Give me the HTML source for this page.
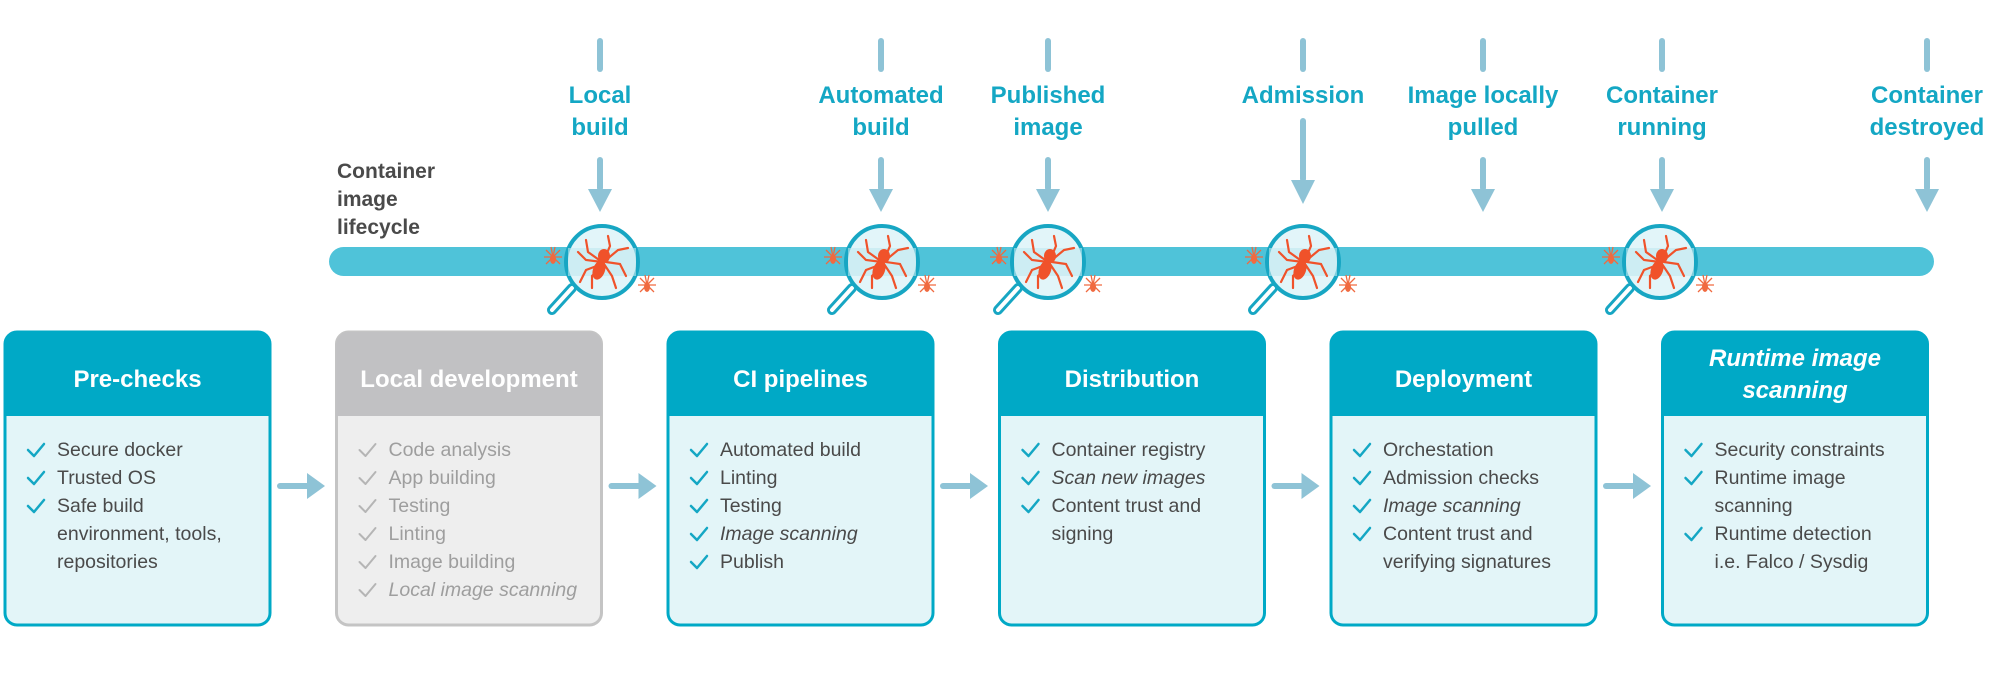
<!DOCTYPE html>
<html><head><meta charset="utf-8"><style>
html,body{margin:0;padding:0;background:#fff;}
svg{display:block;font-family:"Liberation Sans",sans-serif;}
</style></head><body>
<svg width="1999" height="673" viewBox="0 0 1999 673" xmlns="http://www.w3.org/2000/svg">
<defs>
<g id="sp">
 <g stroke="#f0522a" stroke-width="2.2" fill="none" stroke-linecap="round">
  <path d="M0,0 L-14,-10 L-16,-22"/><path d="M0,0 L-16,-2 L-24,-10"/><path d="M0,2 L-16,8 L-22,20"/><path d="M0,4 L-10,14 L-10,26"/>
  <path d="M2,-2 L8,-16 L6,-26"/><path d="M4,-2 L16,-12 L26,-14"/><path d="M4,0 L18,2 L24,14"/><path d="M2,2 L10,14 L14,26"/>
 </g>
 <ellipse cx="2" cy="-6" rx="6" ry="7" fill="#f0522a"/>
 <ellipse cx="-3" cy="8" rx="6" ry="10" fill="#f0522a" transform="rotate(20 -3 8)"/>
</g>
<g id="ss">
 <g stroke="#f06a40" stroke-width="1.3" fill="none">
  <path d="M0,0 L-7,-7 M0,0 L-9,0 M0,0 L-7,7 M0,0 L7,-7 M0,0 L9,0 M0,0 L7,7 M0,0 L-2,-10 M0,0 L2,-10"/>
 </g>
 <ellipse cx="0" cy="2" rx="3" ry="5" fill="#f06a40"/>
</g>
<g id="mag">
 <line x1="-30" y1="26" x2="-50" y2="48" stroke="#17a6c3" stroke-width="10" stroke-linecap="round"/>
 <line x1="-30" y1="26" x2="-50" y2="48" stroke="#fff" stroke-width="4" stroke-linecap="round"/>
 <circle r="36" fill="#e2f5f9" stroke="#17a6c3" stroke-width="4"/>
 <rect x="-34" y="-14" width="68" height="28" fill="#bfe7ef" opacity="0.6"/>
 <use href="#sp"/>
 <use href="#ss" x="-49" y="-5"/>
 <use href="#ss" x="45" y="23"/>
</g>
<g id="arr">
 <rect x="-3" y="0" width="6" height="34" rx="3" fill="#8ec3d6"/>
 <polygon points="-12,32 12,32 0,55" fill="#8ec3d6"/>
</g>
<g id="top"><rect x="-3" y="38" width="6" height="34" rx="3" fill="#8ec3d6"/></g>
<g id="rarr">
 <rect x="0" y="-3" width="34" height="6" rx="3" fill="#8ec3d6"/>
 <polygon points="30,-13 30,13 48,0" fill="#8ec3d6"/>
</g>
</defs>

<g font-weight="bold" font-size="21" fill="#4a4a4a">
<text x="337" y="178">Container</text><text x="337" y="206">image</text><text x="337" y="234">lifecycle</text>
</g>
<rect x="329" y="247" width="1605" height="29" rx="14.5" fill="#4fc3d9"/>

<g font-weight="bold" font-size="24" fill="#14a7c4" text-anchor="middle">
<use href="#top" x="600"/><text x="600" y="103">Local</text><text x="600" y="135">build</text><use href="#arr" x="600" y="157"/>
<use href="#top" x="881"/><text x="881" y="103">Automated</text><text x="881" y="135">build</text><use href="#arr" x="881" y="157"/>
<use href="#top" x="1048"/><text x="1048" y="103">Published</text><text x="1048" y="135">image</text><use href="#arr" x="1048" y="157"/>
<use href="#top" x="1303"/><text x="1303" y="103">Admission</text>
<rect x="1300" y="118" width="6" height="64" rx="3" fill="#8ec3d6"/><polygon points="1291,180 1315,180 1303,204" fill="#8ec3d6"/>
<use href="#top" x="1483"/><text x="1483" y="103">Image locally</text><text x="1483" y="135">pulled</text><use href="#arr" x="1483" y="157"/>
<use href="#top" x="1662"/><text x="1662" y="103">Container</text><text x="1662" y="135">running</text><use href="#arr" x="1662" y="157"/>
<use href="#top" x="1927"/><text x="1927" y="103">Container</text><text x="1927" y="135">destroyed</text><use href="#arr" x="1927" y="157"/>
</g>

<use href="#mag" x="602" y="262"/>
<use href="#mag" x="882" y="262"/>
<use href="#mag" x="1048" y="262"/>
<use href="#mag" x="1303" y="262"/>
<use href="#mag" x="1660" y="262"/>

<g>
<rect x="5" y="332" width="265" height="293" rx="12" fill="#e3f5f8" stroke="#00a9c6" stroke-width="3"/>
<path d="M5,344 a12,12 0 0 1 12,-12 h241 a12,12 0 0 1 12,12 v72 h-265z" fill="#00a9c6"/>
<rect x="336.5" y="332" width="265" height="293" rx="12" fill="#eeeeee" stroke="#c4c4c4" stroke-width="3"/>
<path d="M336.5,344 a12,12 0 0 1 12,-12 h241 a12,12 0 0 1 12,12 v72 h-265z" fill="#c1c1c3"/>
<rect x="668" y="332" width="265" height="293" rx="12" fill="#e3f5f8" stroke="#00a9c6" stroke-width="3"/>
<path d="M668,344 a12,12 0 0 1 12,-12 h241 a12,12 0 0 1 12,12 v72 h-265z" fill="#00a9c6"/>
<rect x="999.5" y="332" width="265" height="293" rx="12" fill="#e3f5f8" stroke="#00a9c6" stroke-width="3"/>
<path d="M999.5,344 a12,12 0 0 1 12,-12 h241 a12,12 0 0 1 12,12 v72 h-265z" fill="#00a9c6"/>
<rect x="1331" y="332" width="265" height="293" rx="12" fill="#e3f5f8" stroke="#00a9c6" stroke-width="3"/>
<path d="M1331,344 a12,12 0 0 1 12,-12 h241 a12,12 0 0 1 12,12 v72 h-265z" fill="#00a9c6"/>
<rect x="1662.5" y="332" width="265" height="293" rx="12" fill="#e3f5f8" stroke="#00a9c6" stroke-width="3"/>
<path d="M1662.5,344 a12,12 0 0 1 12,-12 h241 a12,12 0 0 1 12,12 v72 h-265z" fill="#00a9c6"/>
</g>

<use href="#rarr" x="277" y="486"/>
<use href="#rarr" x="608.5" y="486"/>
<use href="#rarr" x="940" y="486"/>
<use href="#rarr" x="1271.5" y="486"/>
<use href="#rarr" x="1603" y="486"/>

<g font-weight="bold" font-size="24" fill="#fff" text-anchor="middle">
<text x="137.5" y="387">Pre-checks</text>
<text x="469" y="387">Local development</text>
<text x="800.5" y="387">CI pipelines</text>
<text x="1132" y="387">Distribution</text>
<text x="1463.5" y="387">Deployment</text>
<text x="1795" y="366" font-style="italic">Runtime image</text>
<text x="1795" y="398" font-style="italic">scanning</text>
</g>

<g font-size="19.5" fill="#4a4a4a">
<text x="57" y="456">Secure docker</text><text x="57" y="484">Trusted OS</text><text x="57" y="512">Safe build</text><text x="57" y="540">environment, tools,</text><text x="57" y="568">repositories</text>
</g>
<g font-size="19.5" fill="#9e9e9e">
<text x="388.5" y="456">Code analysis</text><text x="388.5" y="484">App building</text><text x="388.5" y="512">Testing</text><text x="388.5" y="540">Linting</text><text x="388.5" y="568">Image building</text><text x="388.5" y="596" font-style="italic">Local image scanning</text>
</g>
<g font-size="19.5" fill="#4a4a4a">
<text x="720" y="456">Automated build</text><text x="720" y="484">Linting</text><text x="720" y="512">Testing</text><text x="720" y="540" font-style="italic">Image scanning</text><text x="720" y="568">Publish</text>
<text x="1051.5" y="456">Container registry</text><text x="1051.5" y="484" font-style="italic">Scan new images</text><text x="1051.5" y="512">Content trust and</text><text x="1051.5" y="540">signing</text>
<text x="1383" y="456">Orchestation</text><text x="1383" y="484">Admission checks</text><text x="1383" y="512" font-style="italic">Image scanning</text><text x="1383" y="540">Content trust and</text><text x="1383" y="568">verifying signatures</text>
<text x="1714.5" y="456">Security constraints</text><text x="1714.5" y="484">Runtime image</text><text x="1714.5" y="512">scanning</text><text x="1714.5" y="540">Runtime detection</text><text x="1714.5" y="568">i.e. Falco / Sysdig</text>
</g>

<g fill="none" stroke="#14a7c4" stroke-width="2.5" stroke-linecap="round" stroke-linejoin="round">
<path d="M28,450 l6,6 l10,-12"/><path d="M28,478 l6,6 l10,-12"/><path d="M28,506 l6,6 l10,-12"/>
<path d="M691,450 l6,6 l10,-12"/><path d="M691,478 l6,6 l10,-12"/><path d="M691,506 l6,6 l10,-12"/><path d="M691,534 l6,6 l10,-12"/><path d="M691,562 l6,6 l10,-12"/>
<path d="M1022.5,450 l6,6 l10,-12"/><path d="M1022.5,478 l6,6 l10,-12"/><path d="M1022.5,506 l6,6 l10,-12"/>
<path d="M1354,450 l6,6 l10,-12"/><path d="M1354,478 l6,6 l10,-12"/><path d="M1354,506 l6,6 l10,-12"/><path d="M1354,534 l6,6 l10,-12"/>
<path d="M1685.5,450 l6,6 l10,-12"/><path d="M1685.5,478 l6,6 l10,-12"/><path d="M1685.5,534 l6,6 l10,-12"/>
</g>
<g fill="none" stroke="#b5b5b5" stroke-width="2" stroke-linecap="round" stroke-linejoin="round">
<path d="M359.5,450 l6,6 l10,-12"/><path d="M359.5,478 l6,6 l10,-12"/><path d="M359.5,506 l6,6 l10,-12"/><path d="M359.5,534 l6,6 l10,-12"/><path d="M359.5,562 l6,6 l10,-12"/><path d="M359.5,590 l6,6 l10,-12"/>
</g>
</svg>
</body></html>
